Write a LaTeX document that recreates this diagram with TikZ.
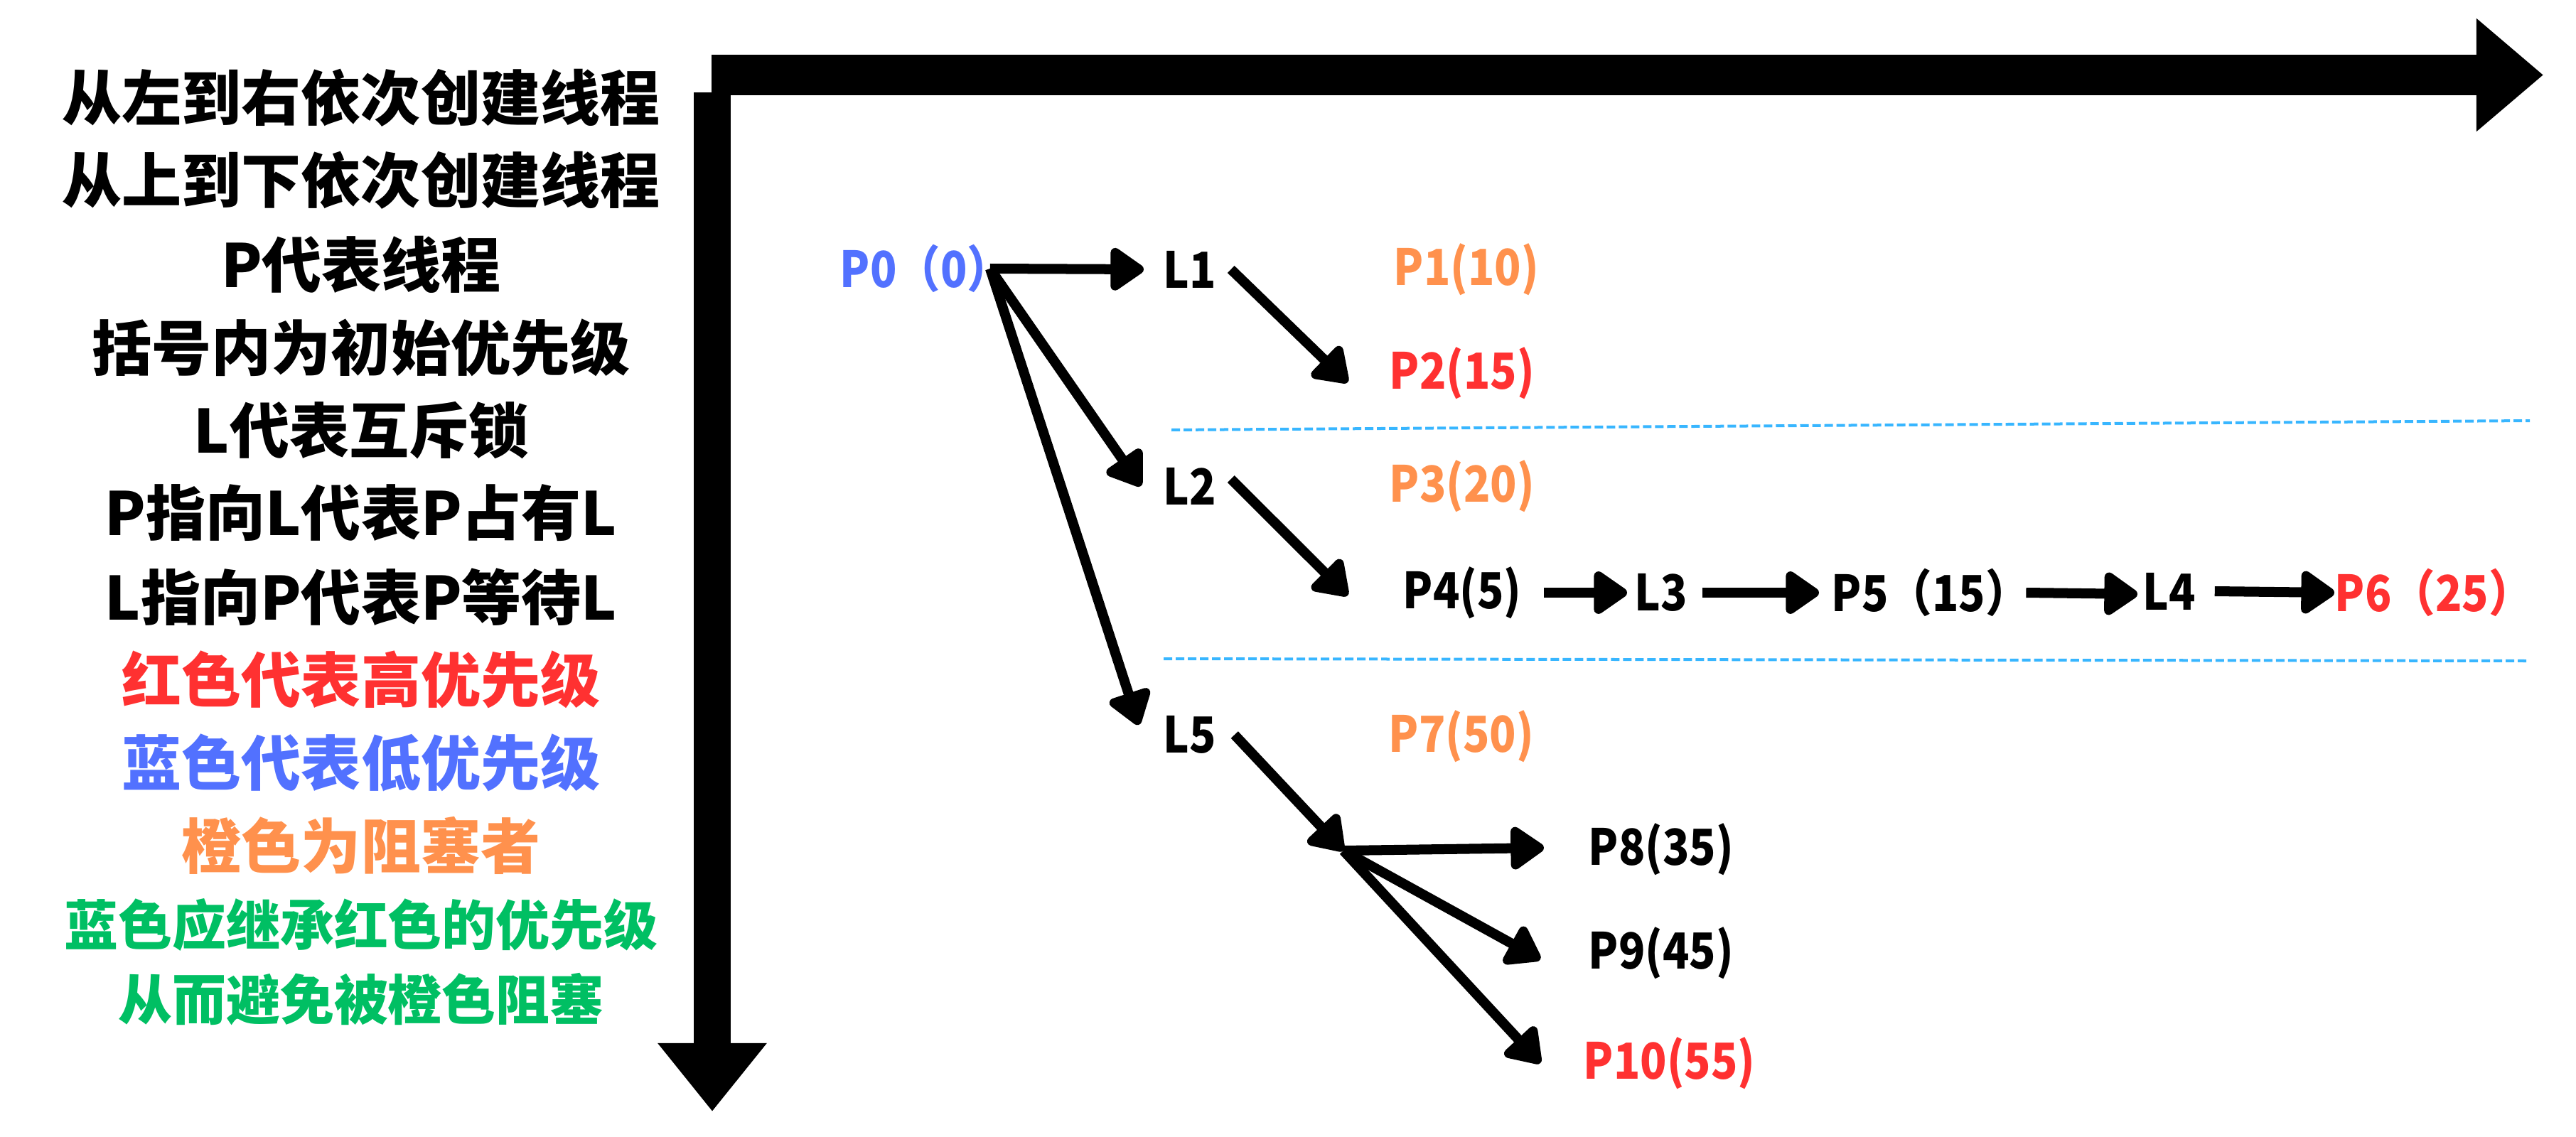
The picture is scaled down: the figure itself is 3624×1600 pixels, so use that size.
\documentclass[tikz,border=0pt]{standalone}
\usepackage{fontspec}
\setmainfont{Noto Sans CJK SC}
\newfontfamily\lblfont{Noto Sans CJK SC}[FakeStretch=0.88]
\usetikzlibrary{arrows.meta}

\definecolor{hiRed}{HTML}{FF3131}
\definecolor{loBlue}{HTML}{5271FF}
\definecolor{blkOrange}{HTML}{FF914D}
\definecolor{inhGreen}{HTML}{00BF63}
\definecolor{sepBlue}{HTML}{38B6FF}

\tikzset{
  hint/.style={inner sep=0pt},
  lbl/.style={font=\lblfont\bfseries\fontsize{19.9}{24}\selectfont, inner sep=0pt, anchor=west},
  arr/.style={line width=0.14cm, -{Triangle[length=0.52cm,width=0.68cm,round]}},
  sep/.style={draw=sepBlue, line width=0.04cm, dash pattern=on 0.12cm off 0.05cm}
}

\begin{document}
\begin{tikzpicture}[x=0.01cm,y=-0.01cm]
  \useasboundingbox (0,0) rectangle (3624,1600);
  % axes
  \coordinate (xbeg) at (1001,105.5);
  \coordinate (xtip) at (3578,105.5);
  \coordinate (ybeg) at (1002,130);
  \coordinate (ytip) at (1002,1564);
  \draw[line width=0.57cm, -{Triangle[length=0.94cm,width=1.53cm]}] (xbeg) -- (xtip);
  \draw[line width=0.52cm, -{Triangle[length=0.96cm,width=1.47cm]}] (ybeg) -- (ytip);

  % legend
  \foreach \txt/\y/\col/\sz [count=\i] in {
      从左到右依次创建线程/138/black/23.9,
      从上到下依次创建线程/254/black/23.9,
      P代表线程/372/black/23.9,
      括号内为初始优先级/489/black/23.9,
      L代表互斥锁/606/black/23.9,
      P指向L代表P占有L/722/black/23.9,
      L指向P代表P等待L/840/black/23.9,
      红色代表高优先级/956/hiRed/23.9,
      蓝色代表低优先级/1073/loBlue/23.9,
      橙色为阻塞者/1190/blkOrange/23.9,
      蓝色应继承红色的优先级/1301/inhGreen/21.6,
      从而避免被橙色阻塞/1406/inhGreen/21.6} {
    \node[hint, text=\col, font=\bfseries\fontsize{\sz}{\sz}\selectfont] (hint\i) at (508,\y) {\txt};
  }

  % threads and locks
  \node[lbl, text=loBlue] (p0) at (1181,378) {P0（0）};
  \node[lbl] (l1) at (1636,379) {L1};
  \node[lbl, text=blkOrange] (p1) at (1960,379) {P1(10)};
  \node[lbl, text=hiRed] (p2) at (1954,525) {P2(15)};
  \node[lbl] (l2) at (1636,684) {L2};
  \node[lbl, text=blkOrange] (p3) at (1954,684) {P3(20)};
  \node[lbl] (p4) at (1973,834) {P4(5)};
  \node[lbl] (l3) at (2299,834) {L3};
  \node[lbl] (p5) at (2576,834) {P5（15）};
  \node[lbl] (l4) at (3014,832) {L4};
  \node[lbl, text=hiRed] (p6) at (3284,834) {P6（25）};
  \node[lbl] (l5) at (1636,1034) {L5};
  \node[lbl, text=blkOrange] (p7) at (1953,1036) {P7(50)};
  \node[lbl] (p8) at (2234,1195) {P8(35)};
  \node[lbl] (p9) at (2234,1341) {P9(45)};
  \node[lbl, text=hiRed] (p10) at (2227,1496) {P10(55)};
  \coordinate (fork) at (1890,1197);

  % separators
  \draw[sep] (1648,605) -- (3559,592);
  \draw[sep] (1637,927) -- (3556,930);

  % holds and waits
  \draw[arr] ([xshift=-0.3cm]p0.east) -- ([xshift=-0.27cm]l1.west);
  \draw[arr] ([xshift=-0.3cm]p0.east) -- ([xshift=-0.31cm]l2.west);
  \draw[arr] ([xshift=-0.3cm]p0.east) -- ([xshift=-0.34cm,yshift=0.14cm]l5.west);
  \draw[arr] ([xshift=0.2cm]l1.east) -- ([xshift=-0.58cm,yshift=-0.13cm]p2.west);
  \draw[arr] ([xshift=0.2cm,yshift=0.1cm]l2.east) -- ([xshift=-0.77cm,yshift=-0.04cm]p4.west);
  \draw[arr] ([xshift=0.25cm]l5.east) -- (fork);
  \draw[arr] (fork) -- ([xshift=-0.62cm,yshift=0.02cm]p8.west);
  \draw[arr] (fork) -- ([xshift=-0.67cm,yshift=-0.09cm]p9.west);
  \draw[arr] (fork) -- ([xshift=-0.6cm]p10.west);
  \draw[arr] ([xshift=0.31cm]p4.east) -- ([xshift=-0.1cm]l3.west);
  \draw[arr] ([xshift=0.2cm]l3.east) -- ([xshift=-0.17cm]p5.west);
  \draw[arr] ([xshift=-0.05cm]p5.east) -- ([xshift=-0.07cm,yshift=-0.04cm]l4.west);
  \draw[arr] ([xshift=0.26cm]l4.east) -- (p6.west);
\end{tikzpicture}
\end{document}
